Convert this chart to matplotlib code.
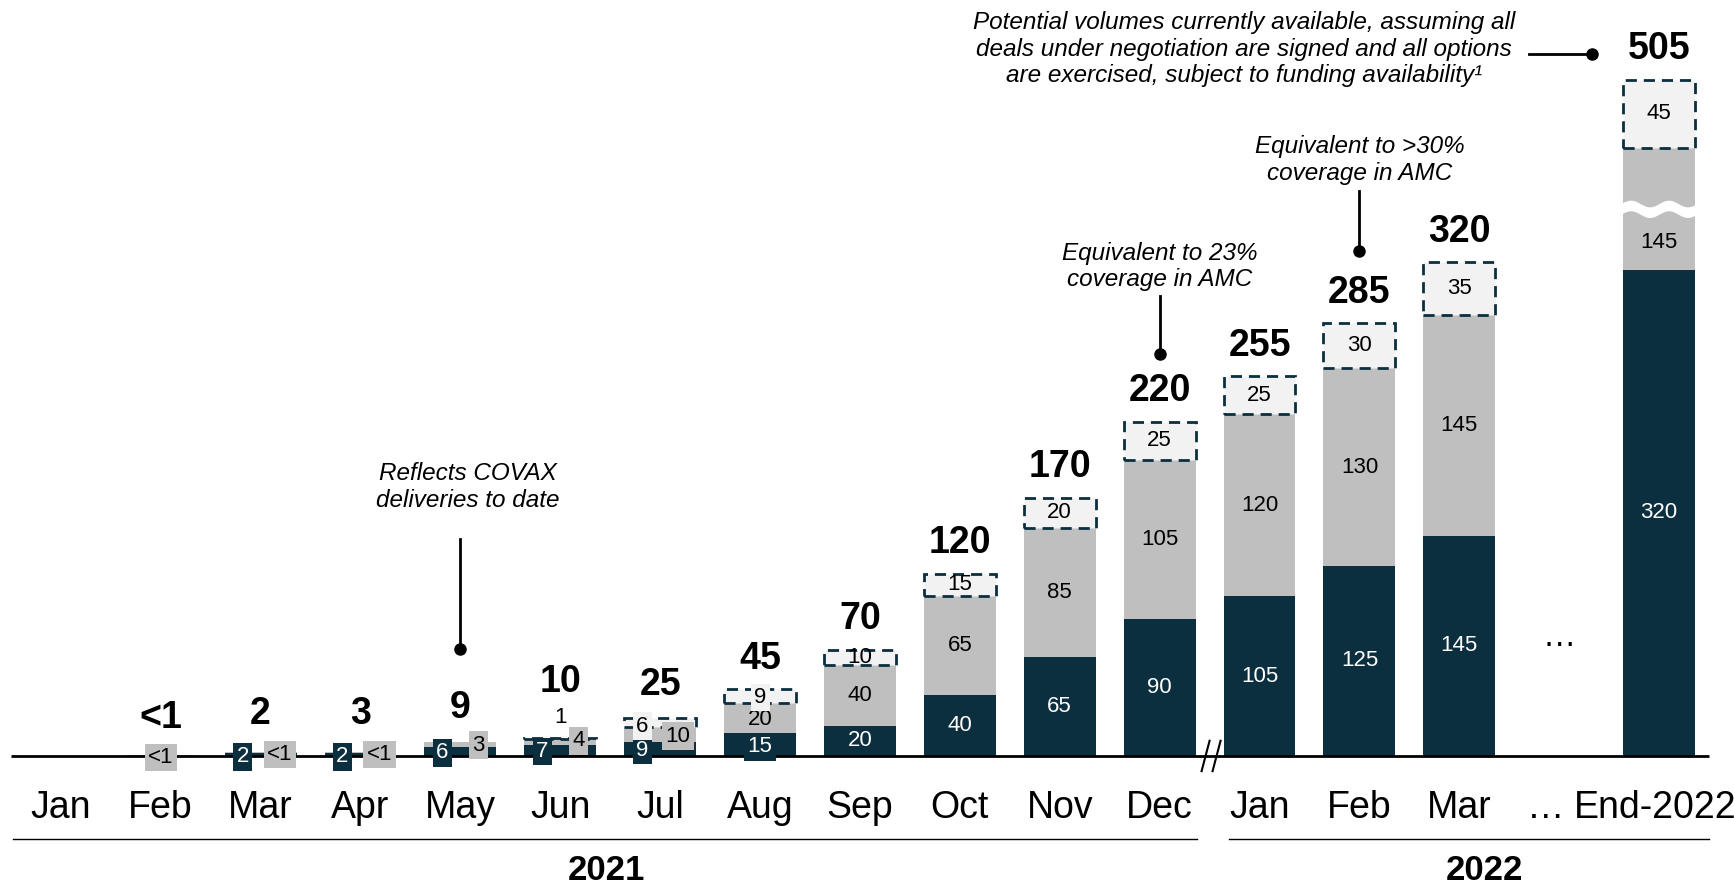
import numpy as np
import matplotlib
matplotlib.use("Agg")
import matplotlib.pyplot as plt
from matplotlib import font_manager

plt.rcParams['font.family'] = ['Liberation Sans', 'DejaVu Sans']
installed = {f.name for f in font_manager.fontManager.ttflist}
month_font = 'Liberation Sans Narrow' if 'Liberation Sans Narrow' in installed else 'Liberation Sans'

# data (millions of doses)
months = ['Jan', 'Feb', 'Mar', 'Apr', 'May', 'Jun', 'Jul', 'Aug', 'Sep', 'Oct', 'Nov', 'Dec',
          'Jan', 'Feb', 'Mar', '…', 'End-2022']
dark = [0, 0, 2, 2, 6, 7, 9, 15, 20, 40, 65, 90, 105, 125, 145, 0, 320]
gray = [0, 0.5, 0.5, 0.5, 3, 4, 10, 20, 40, 65, 85, 105, 120, 130, 145, 0, 145]
light = [0, 0, 0, 0, 0, 1, 6, 9, 10, 15, 20, 25, 25, 30, 35, 0, 45]
dark_lbl = ['', '', '2', '2', '6', '7', '9', '15', '20', '40', '65', '90', '105', '125', '145', '', '320']
gray_lbl = ['', '<1', '<1', '<1', '3', '4', '10', '20', '40', '65', '85', '105', '120', '130', '145', '', '145']
light_lbl = ['', '', '', '', '', '1', '6', '9', '10', '15', '20', '25', '25', '30', '35', '', '45']
totals = ['', '<1', '2', '3', '9', '10', '25', '45', '70', '120', '170', '220', '255', '285', '320', '', '505']
years = ['2021', '2022']

C_DARK = '#0C2F3F'
C_GRAY = '#BFBFBF'
C_LIGHT = '#F2F2F2'

# axis break on the End-2022 bar
break_cut = 65
END = 16
ELL = 15

# label placement for the tiny bars: (dx, y)
small_pos = {
    1: {'gray': (0, -1)},
    2: {'dark': (-0.18, -0.5), 'gray': (0.19, 1)},
    3: {'dark': (-0.18, -0.5), 'gray': (0.19, 1)},
    4: {'dark': (-0.18, 2), 'gray': (0.18, 7)},
    5: {'dark': (-0.18, 3), 'gray': (0.18, 10), 'light': (0, 25)},
    6: {'dark': (-0.18, 3.6), 'gray': (0.18, 13), 'light': (-0.18, 19.6)},
    7: {'dark': (0, 6), 'gray': (0, 24), 'light': (0, 38.5)},
}
small_total_y = {1: 13, 2: 16, 3: 16, 4: 19.5, 5: 37, 6: 35}

fig = plt.figure(figsize=(17.34, 8.85), dpi=100)
ax = fig.add_axes([0, 0, 1, 1])
ax.set_xlim(-0.609, 16.75)
ax.set_ylim(-84.9, 497.4)
ax.axis('off')

x = np.arange(len(months))
w = 0.72
gray_shown = list(gray)
gray_shown[END] = gray[END] - break_cut

for i in x:
    if i == ELL:
        continue
    d, g, l = dark[i], gray_shown[i], light[i]
    ax.bar(i, d, w, color=C_DARK, zorder=2)
    ax.bar(i, g, w, bottom=d, color=C_GRAY, zorder=2)
    if l > 0:
        ax.bar(i, l, w, bottom=d + g, color=C_LIGHT, edgecolor=C_DARK,
               linestyle=(0, (4, 2.5)), linewidth=2, zorder=3)
    top = d + g + l

    lab_kw = dict(ha='center', va='center', fontsize=16, zorder=8)
    if i in small_pos:
        pos = small_pos[i]
        for seg, txt, fc, tc in [('dark', dark_lbl[i], C_DARK, 'white'),
                                 ('gray', gray_lbl[i], C_GRAY, 'black'),
                                 ('light', light_lbl[i], C_LIGHT, 'black')]:
            if seg not in pos or not txt:
                continue
            dx, yy = pos[seg]
            bb = None if (i == 5 and seg == 'light') else dict(boxstyle='square,pad=0.15', fc=fc, ec='none')
            ax.text(i + dx, yy, txt, color=tc, bbox=bb, **lab_kw)
        ty = small_total_y.get(i, top + 8)
    else:
        ax.text(i, d / 2, dark_lbl[i], color='white', **lab_kw)
        if i == END:
            ax.text(i, d + 18, gray_lbl[i], color='black', **lab_kw)
        else:
            ax.text(i, d + g / 2, gray_lbl[i], color='black', **lab_kw)
        ax.text(i, d + g + l / 2, light_lbl[i], color='black', **lab_kw)
        ty = top + 8
    ax.text(i, ty, totals[i], ha='center', va='bottom', fontsize=27,
            fontweight='bold', zorder=5)

# wavy break through the End-2022 gray segment
ymid = dark[END] + gray_shown[END] / 2
t = np.linspace(0, 1, 200)
xs = END - w / 2 - 0.02 + t * (w + 0.04)
wave = 2.2 * np.sin(2 * np.pi * 2 * t)
ax.fill_between(xs, ymid - 3.5 + wave, ymid + 3.5 + wave, color='white', zorder=4, lw=0)

ax.text(ELL, 78, '…', ha='center', va='center', fontsize=24)

# baseline with break marks
ax.plot([-0.5, 16.5], [0, 0], color='black', lw=2, zorder=6, solid_capstyle='butt')
for sx in [11.46, 11.57]:
    ax.plot([sx - 0.04, sx + 0.04], [-10, 10], color='black', lw=1.5, zorder=7)

# month labels
month_x = list(x.astype(float))
month_x[ELL] = 14.86
month_x[END] = 15.96
for xx, m in zip(month_x, months):
    ax.text(xx, -34, m, ha='center', va='center', fontsize=27, family=month_font)

# year brackets
ax.plot([-0.48, 11.37], [-54.6, -54.6], color='black', lw=1)
ax.plot([11.69, 16.5], [-54.6, -54.6], color='black', lw=1)
ax.text(5.46, -75.6, years[0], ha='center', va='center', fontsize=25, fontweight='bold')
ax.text(14.25, -75.6, years[1], ha='center', va='center', fontsize=25, fontweight='bold')

# callouts
note_kw = dict(fontsize=17.5, style='italic', linespacing=1.2)
ax.text(4.07, 177, 'Reflects COVAX\ndeliveries to date', ha='center', va='center', **note_kw)
ax.plot([4, 4], [142.5, 70.5], color='black', lw=2)
ax.plot(4, 70.5, 'o', color='black', ms=8)

ax.text(11, 322, 'Equivalent to 23%\ncoverage in AMC', ha='center', va='center', **note_kw)
ax.plot([11, 11], [302.5, 264.7], color='black', lw=2)
ax.plot(11, 264.7, 'o', color='black', ms=8)

ax.text(13, 392, 'Equivalent to >30%\ncoverage in AMC', ha='center', va='center', **note_kw)
ax.plot([13, 13], [372, 332], color='black', lw=2)
ax.plot(13, 332, 'o', color='black', ms=8)

ax.text(14.56, 465, 'Potential volumes currently available, assuming all\n'
        'deals under negotiation are signed and all options\n'
        'are exercised, subject to funding availability¹',
        ha='right', va='center', multialignment='center', **note_kw)
ax.plot([14.70, 15.33], [462, 462], color='black', lw=2)
ax.plot(15.33, 462, 'o', color='black', ms=8)

fig.savefig('out.png', dpi=100)
